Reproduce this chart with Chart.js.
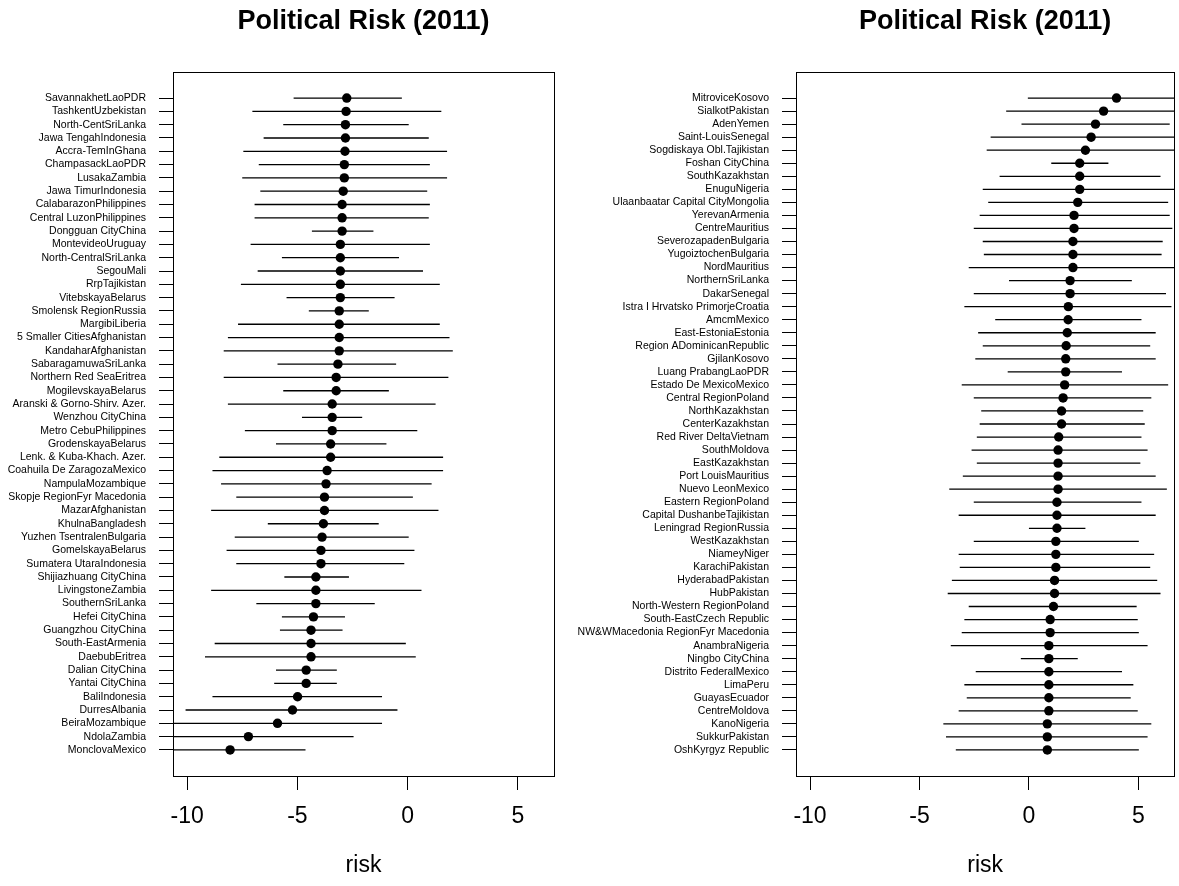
<!DOCTYPE html>
<html>
<head>
<meta charset="utf-8">
<title>Political Risk (2011)</title>
<script src="https://cdn.jsdelivr.net/npm/chart.js@4.4.1/dist/chart.umd.min.js"></script>
<style>
  html, body { margin: 0; padding: 0; background: #fff; }
  #wrap { position: relative; width: 1179px; height: 886px; overflow: hidden; }
  canvas { position: absolute; top: 0; }
  #panelIzq { left: 0; }
  #panelDer { left: 560px; }
</style>
</head>
<body>
<div id="wrap">
  <canvas id="panelIzq" width="560" height="886"></canvas>
  <canvas id="panelDer" width="619" height="886"></canvas>
</div>
<script>
// Textos y ejes
const titulo = 'Political Risk (2011)';
const ejeX = 'risk';
const xTicks = [-10, -5, 0, 5];
const xMin = -10.64;
const xMax = 6.64;

// Panel izquierdo (de arriba hacia abajo)
const labelsL = ['SavannakhetLaoPDR', 'TashkentUzbekistan', 'North-CentSriLanka', 'Jawa TengahIndonesia',
  'Accra-TemInGhana', 'ChampasackLaoPDR', 'LusakaZambia', 'Jawa TimurIndonesia', 'CalabarazonPhilippines',
  'Central LuzonPhilippines', 'Dongguan CityChina', 'MontevideoUruguay', 'North-CentralSriLanka', 'SegouMali',
  'RrpTajikistan', 'VitebskayaBelarus', 'Smolensk RegionRussia', 'MargibiLiberia', '5 Smaller CitiesAfghanistan',
  'KandaharAfghanistan', 'SabaragamuwaSriLanka', 'Northern Red SeaEritrea', 'MogilevskayaBelarus',
  'Aranski & Gorno-Shirv. Azer.', 'Wenzhou CityChina', 'Metro CebuPhilippines', 'GrodenskayaBelarus',
  'Lenk. & Kuba-Khach. Azer.', 'Coahuila De ZaragozaMexico', 'NampulaMozambique', 'Skopje RegionFyr Macedonia',
  'MazarAfghanistan', 'KhulnaBangladesh', 'Yuzhen TsentralenBulgaria', 'GomelskayaBelarus',
  'Sumatera UtaraIndonesia', 'Shijiazhuang CityChina', 'LivingstoneZambia', 'SouthernSriLanka', 'Hefei CityChina',
  'Guangzhou CityChina', 'South-EastArmenia', 'DaebubEritrea', 'Dalian CityChina', 'Yantai CityChina',
  'BaliIndonesia', 'DurresAlbania', 'BeiraMozambique', 'NdolaZambia', 'MonclovaMexico'];
const riskL = [-2.76, -2.79, -2.82, -2.82, -2.84, -2.87, -2.87, -2.92, -2.97, -2.97, -2.97, -3.05, -3.05, -3.05,
  -3.05, -3.05, -3.10, -3.10, -3.10, -3.10, -3.16, -3.24, -3.24, -3.42, -3.42, -3.42, -3.49, -3.49, -3.65, -3.70,
  -3.77, -3.77, -3.82, -3.88, -3.93, -3.93, -4.16, -4.16, -4.16, -4.27, -4.38, -4.38, -4.38, -4.60, -4.60, -4.99,
  -5.22, -5.90, -7.22, -8.05];
const loL = [-5.17, -7.04, -5.64, -6.53, -7.45, -6.75, -7.50, -6.68, -6.94, -6.94, -4.34, -7.12, -5.70, -6.80,
  -7.56, -5.49, -4.48, -7.69, -8.15, -8.34, -5.90, -8.34, -5.64, -8.15, -4.79, -7.38, -5.97, -8.54, -8.85, -8.46,
  -7.77, -8.91, -6.34, -7.84, -8.21, -7.77, -5.59, -8.91, -6.86, -5.70, -5.79, -8.75, -9.19, -5.97, -6.05, -8.85,
  -10.07, -10.64, -11.99, -11.47];
const hiL = [-0.26, 1.53, 0.05, 0.96, 1.79, 1.01, 1.79, 0.89, 1.01, 0.96, -1.55, 1.01, -0.39, 0.70, 1.46, -0.59,
  -1.76, 1.46, 1.90, 2.05, -0.52, 1.85, -0.85, 1.27, -2.06, 0.44, -0.96, 1.61, 1.61, 1.09, 0.24, 1.40, -1.31, 0.05,
  0.31, -0.15, -2.66, 0.63, -1.49, -2.84, -2.95, -0.08, 0.37, -3.21, -3.21, -1.16, -0.46, -1.16, -2.45, -4.63];

// Panel derecho
const labelsR = ['MitroviceKosovo', 'SialkotPakistan', 'AdenYemen', 'Saint-LouisSenegal', 'Sogdiskaya Obl.Tajikistan',
  'Foshan CityChina', 'SouthKazakhstan', 'EnuguNigeria', 'Ulaanbaatar Capital CityMongolia', 'YerevanArmenia',
  'CentreMauritius', 'SeverozapadenBulgaria', 'YugoiztochenBulgaria', 'NordMauritius', 'NorthernSriLanka',
  'DakarSenegal', 'Istra I Hrvatsko PrimorjeCroatia', 'AmcmMexico', 'East-EstoniaEstonia',
  'Region ADominicanRepublic', 'GjilanKosovo', 'Luang PrabangLaoPDR', 'Estado De MexicoMexico',
  'Central RegionPoland', 'NorthKazakhstan', 'CenterKazakhstan', 'Red River DeltaVietnam', 'SouthMoldova',
  'EastKazakhstan', 'Port LouisMauritius', 'Nuevo LeonMexico', 'Eastern RegionPoland', 'Capital DushanbeTajikistan',
  'Leningrad RegionRussia', 'WestKazakhstan', 'NiameyNiger', 'KarachiPakistan', 'HyderabadPakistan', 'HubPakistan',
  'North-Western RegionPoland', 'South-EastCzech Republic', 'NW&WMacedonia RegionFyr Macedonia', 'AnambraNigeria',
  'Ningbo CityChina', 'Distrito FederalMexico', 'LimaPeru', 'GuayasEcuador', 'CentreMoldova', 'KanoNigeria',
  'SukkurPakistan', 'OshKyrgyz Republic'];
const riskR = [4.00, 3.41, 3.04, 2.84, 2.58, 2.32, 2.32, 2.32, 2.23, 2.06, 2.06, 2.01, 2.01, 2.01, 1.88, 1.88,
  1.80, 1.79, 1.75, 1.70, 1.68, 1.68, 1.63, 1.56, 1.49, 1.49, 1.36, 1.33, 1.33, 1.33, 1.33, 1.28, 1.28, 1.28, 1.23,
  1.23, 1.23, 1.17, 1.17, 1.12, 0.97, 0.97, 0.91, 0.91, 0.91, 0.91, 0.91, 0.91, 0.84, 0.84, 0.84];
const loR = [-0.05, -1.04, -0.34, -1.75, -1.93, 1.02, -1.34, -2.11, -1.86, -2.25, -2.52, -2.11, -2.06, -2.75,
  -0.91, -2.52, -2.95, -1.54, -2.32, -2.11, -2.45, -0.97, -3.07, -2.52, -2.18, -2.25, -2.38, -2.62, -2.38, -3.02,
  -3.64, -2.52, -3.21, 0.00, -2.52, -3.21, -3.16, -3.52, -3.71, -2.75, -2.95, -3.07, -3.57, -0.37, -2.43, -2.95,
  -2.84, -3.21, -3.91, -3.79, -3.34];
const hiR = [8.05, 7.86, 6.43, 7.43, 7.09, 3.63, 6.01, 6.75, 6.36, 6.43, 6.55, 6.11, 6.06, 6.77, 4.70, 6.26, 6.51,
  5.14, 5.79, 5.54, 5.79, 4.25, 6.36, 5.59, 5.22, 5.29, 5.14, 5.42, 5.09, 5.79, 6.30, 5.14, 5.79, 2.58, 5.02, 5.72,
  5.54, 5.86, 6.01, 4.92, 4.97, 5.02, 5.42, 2.23, 4.25, 4.77, 4.65, 4.97, 5.59, 5.42, 5.02];

const fuente = '"Liberation Sans", Arial, Helvetica, sans-serif';

// caja alrededor del area de la grafica, como en R
const cajaPlugin = {
  id: 'caja',
  afterDraw(chart) {
    const a = chart.chartArea;
    const ctx = chart.ctx;
    ctx.save();
    ctx.strokeStyle = '#000';
    ctx.lineWidth = 1;
    ctx.strokeRect(Math.round(a.left) + 0.5, Math.round(a.top) + 0.5,
      Math.round(a.right - a.left), Math.round(a.bottom - a.top));
    ctx.restore();
  }
};

function crearPanel(id, labels, risk, lo, hi, anchoEje, margenDer) {
  const n = labels.length;
  const filas = labels.map((_, i) => i + 1);
  const ext = 0.04 * (n - 1);

  // segmentos del intervalo, separados con un punto nulo
  const segmentos = [];
  filas.forEach((f, i) => {
    segmentos.push({x: lo[i], y: f}, {x: hi[i], y: f}, {x: hi[i], y: null});
  });
  const puntos = filas.map((f, i) => ({x: risk[i], y: f}));

  const marcas = { display: true, drawOnChartArea: false, drawTicks: true, tickLength: 14, color: '#000', lineWidth: 1 };

  new Chart(document.getElementById(id), {
    type: 'scatter',
    data: {
      datasets: [
        {
          data: segmentos,
          showLine: true,
          spanGaps: false,
          borderColor: '#000',
          borderWidth: 1.3,
          pointRadius: 0,
          pointHoverRadius: 0
        },
        {
          data: puntos,
          backgroundColor: '#000',
          borderColor: '#000',
          borderWidth: 0,
          pointRadius: 4.7,
          pointStyle: 'circle'
        }
      ]
    },
    options: {
      responsive: false,
      animation: false,
      events: [],
      layout: { padding: { left: 0, right: margenDer, top: 0, bottom: 0 } },
      plugins: {
        legend: { display: false },
        tooltip: { enabled: false },
        title: {
          display: true,
          text: titulo,
          fullSize: false,
          color: '#000',
          font: { family: fuente, size: 27, weight: 'bold', lineHeight: 1.2 },
          padding: { top: 5.8, bottom: 33.8 }
        }
      },
      scales: {
        x: {
          type: 'linear',
          position: 'bottom',
          min: xMin,
          max: xMax,
          afterBuildTicks: s => { s.ticks = xTicks.map(v => ({value: v})); },
          afterFit: s => { s.height = 110; },
          grid: marcas,
          border: { display: false },
          ticks: { color: '#000', font: { family: fuente, size: 23 }, padding: 13, maxRotation: 0, autoSkip: false },
          title: { display: true, text: ejeX, color: '#000', font: { family: fuente, size: 23 }, padding: { top: 0, bottom: 7 } }
        },
        y: {
          type: 'linear',
          reverse: true,
          min: 1 - ext,
          max: n + ext,
          afterBuildTicks: s => { s.ticks = filas.map(v => ({value: v})); },
          afterFit: s => { s.width = anchoEje; },
          grid: marcas,
          border: { display: false },
          ticks: {
            color: '#000',
            font: { family: fuente, size: 10.5 },
            padding: 13,
            autoSkip: false,
            callback: v => labels[v - 1]
          }
        }
      }
    },
    plugins: [cajaPlugin]
  });
}

document.addEventListener('DOMContentLoaded', function() {
  crearPanel('panelIzq', labelsL, riskL, loL, hiL, 173, 6);
  crearPanel('panelDer', labelsR, riskR, loR, hiR, 236, 2);
});
</script>
</body>
</html>
